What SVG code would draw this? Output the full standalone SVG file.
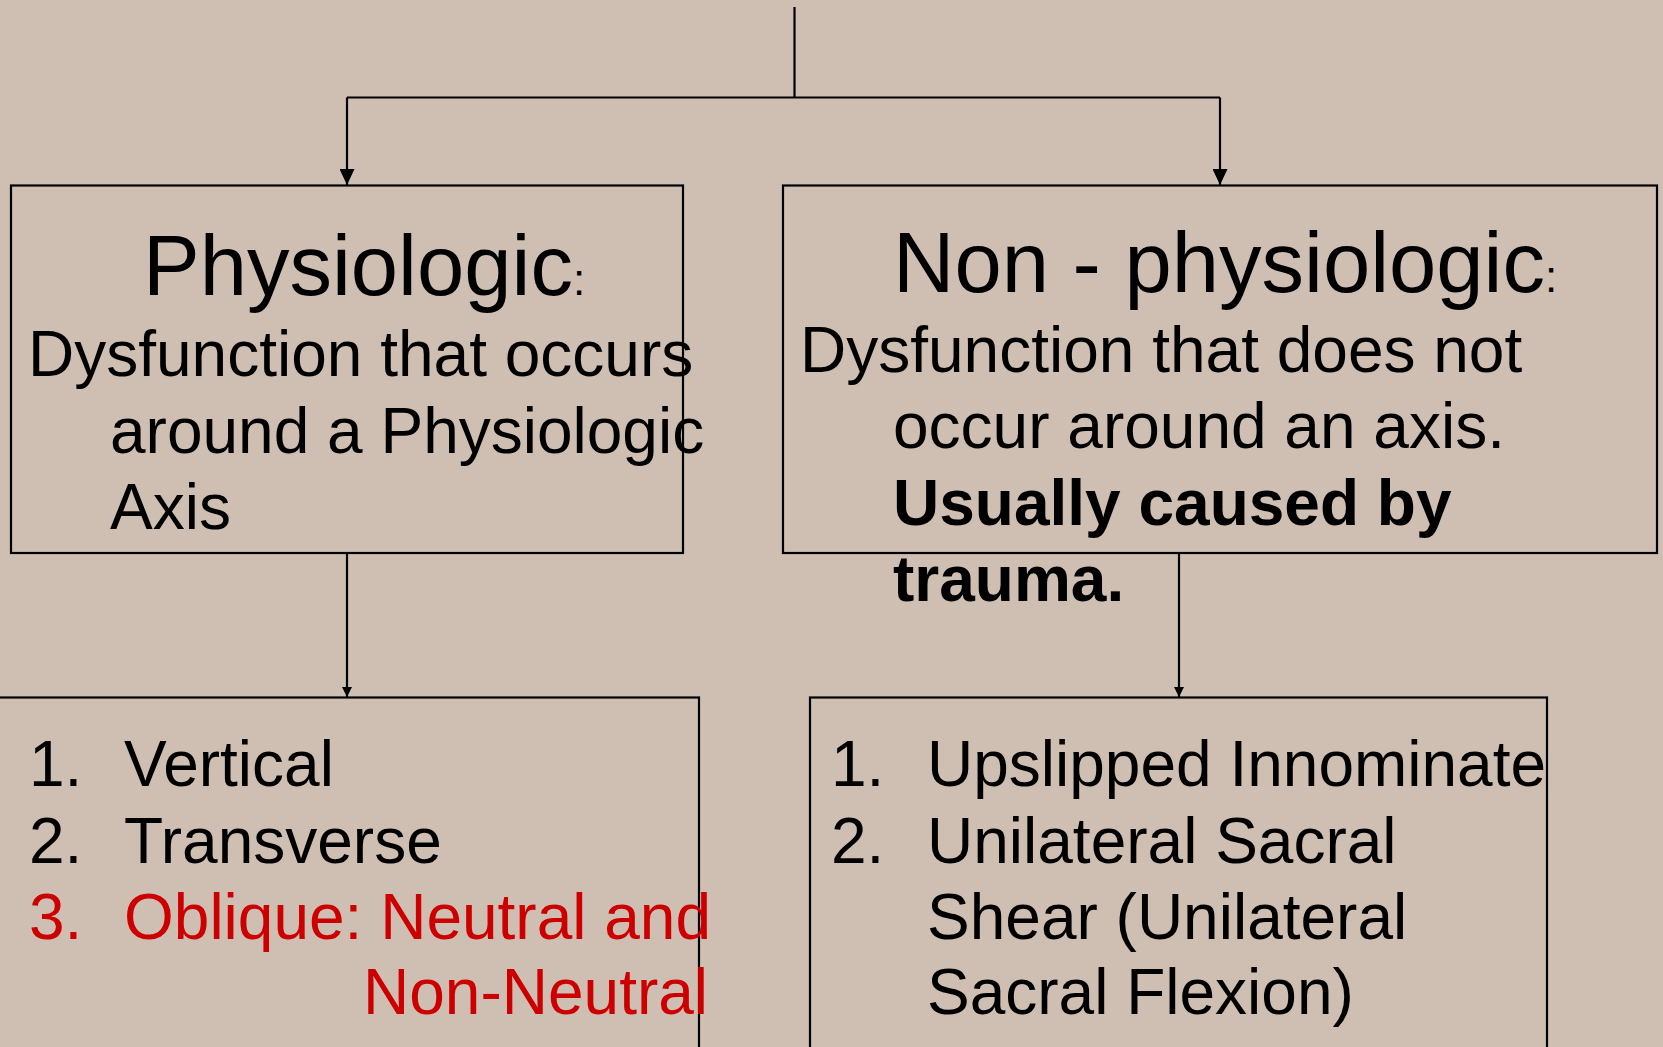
<svg xmlns="http://www.w3.org/2000/svg" width="1663" height="1047" viewBox="0 0 1663 1047">
<defs>
<style>
.bg{fill:#CFBFB2}
.box{fill:none;stroke:#000;stroke-width:2.2}
.ln{fill:none;stroke:#000;stroke-width:2.2}
.t{font-family:"Liberation Sans",Arial,sans-serif;fill:#000}
.title{font-size:85px}
.colon{font-size:44px}
.body{font-size:64px}
.b{font-weight:bold}
.red{fill:#CC0000}
</style>
<marker id="ah" markerUnits="userSpaceOnUse" markerWidth="16" markerHeight="15" refX="16" refY="7.5" orient="auto">
<path d="M0,0 L16,7.5 L0,15 Z" fill="#000"/>
</marker>
<marker id="ahs" markerUnits="userSpaceOnUse" markerWidth="10" markerHeight="10" refX="10" refY="5" orient="auto">
<path d="M0,0 L10,5 L0,10 Z" fill="#000"/>
</marker>
</defs>
<rect class="bg" x="0" y="0" width="1663" height="1047"/>

<g id="connectors">
<line class="ln" x1="794.5" y1="7" x2="794.5" y2="97.5"/>
<line class="ln" x1="347" y1="97.5" x2="1220" y2="97.5"/>
<line class="ln" x1="347" y1="97.5" x2="347" y2="185" marker-end="url(#ah)"/>
<line class="ln" x1="1220" y1="97.5" x2="1220" y2="185" marker-end="url(#ah)"/>
<line class="ln" x1="347" y1="553" x2="347" y2="697" marker-end="url(#ahs)"/>
<line class="ln" x1="1179" y1="553" x2="1179" y2="697" marker-end="url(#ahs)"/>
</g>

<g id="node-physiologic">
<rect class="box" x="11" y="185.5" width="672" height="367.5"/>
<text class="t title" x="143" y="295">Physiologic<tspan class="colon">:</tspan></text>
<text class="t body" x="28" y="376">Dysfunction that occurs</text>
<text class="t body" x="110" y="453">around a Physiologic</text>
<text class="t body" x="110" y="529">Axis</text>
</g>

<g id="node-nonphysiologic">
<rect class="box" x="783" y="185.5" width="874" height="367.5"/>
<text class="t title" x="893" y="292">Non - physiologic<tspan class="colon">:</tspan></text>
<text class="t body" x="800" y="372">Dysfunction that does not</text>
<text class="t body" x="893" y="448">occur around an axis.</text>
<text class="t body b" x="893" y="525">Usually caused by</text>
<text class="t body b" x="893" y="601">trauma.</text>
</g>

<g id="node-physiologic-list">
<rect class="box" x="-5" y="697.5" width="704" height="400"/>
<text class="t body" x="29" y="786">1.</text>
<text class="t body" x="124" y="786">Vertical</text>
<text class="t body" x="29" y="862.5">2.</text>
<text class="t body" x="124" y="862.5">Transverse</text>
<text class="t body red" x="29" y="938.5">3.</text>
<text class="t body red" x="124" y="938.5">Oblique: Neutral and</text>
<text class="t body red" x="363" y="1014">Non-Neutral</text>
</g>

<g id="node-nonphysiologic-list">
<rect class="box" x="810" y="697.5" width="737" height="400"/>
<text class="t body" x="831" y="786">1.</text>
<text class="t body" x="927" y="786">Upslipped Innominate</text>
<text class="t body" x="831" y="862.5">2.</text>
<text class="t body" x="927" y="862.5">Unilateral Sacral</text>
<text class="t body" x="927" y="938.5">Shear (Unilateral</text>
<text class="t body" x="927" y="1014">Sacral Flexion)</text>
</g>
</svg>
